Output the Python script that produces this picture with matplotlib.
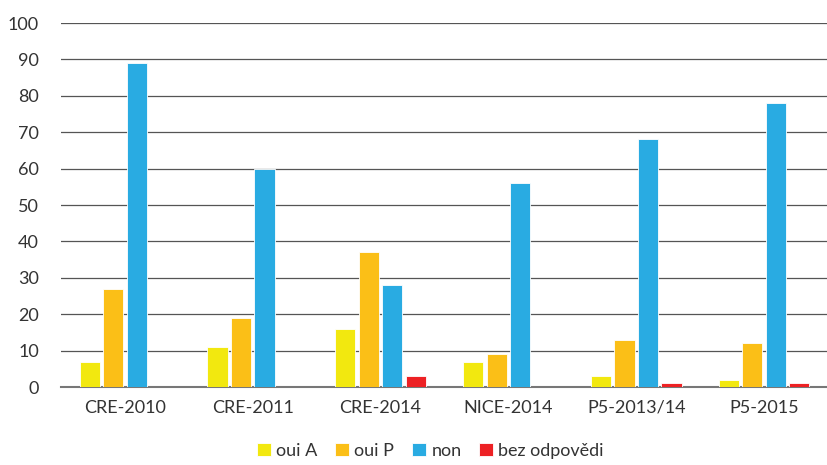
import matplotlib.pyplot as plt
import numpy as np

plt.rcParams['font.family'] = ['Lato', 'DejaVu Sans']

categories = ["CRE-2010", "CRE-2011", "CRE-2014", "NICE-2014", "P5-2013/14", "P5-2015"]
oui_a = [7, 11, 16, 7, 3, 2]
oui_p = [27, 19, 37, 9, 13, 12]
non = [89, 60, 28, 56, 68, 78]
bez = [0, 0, 3, 0, 1, 1]

series = [("oui A", oui_a, "#f2e80f"), ("oui P", oui_p, "#fbbf17"),
          ("non", non, "#29abe2"), ("bez odpovědi", bez, "#ed2124")]

fig = plt.figure(figsize=(8.28, 4.65), dpi=100)
ax = fig.add_axes([0.0737, 0.1677, 0.9263, 0.7828])

x = np.arange(len(categories))
pitch = 0.184
width = 0.158
for i, (name, vals, col) in enumerate(series):
    ax.bar(x + (i - 1.5) * pitch, vals, width, color=col, label=name,
           edgecolor="white", linewidth=0.6, zorder=3)

ax.set_xlim(-0.5, 5.5)
ax.set_ylim(0, 100)
ax.set_yticks(range(0, 101, 10))
ax.set_xticks(x)
ax.set_xticklabels(categories)
ax.tick_params(length=0, labelsize=13, colors="#333333")
ax.tick_params(axis='y', pad=16)
ax.tick_params(axis='x', pad=9)
ax.grid(axis='y', color="#555555", linewidth=0.9, zorder=0)
for s in ["top", "right", "left"]:
    ax.spines[s].set_visible(False)
ax.spines["bottom"].set_color("#777777")
ax.spines["bottom"].set_linewidth(1.5)

fig.legend(loc="center", bbox_to_anchor=(0.52, 0.03), ncol=4, frameon=False,
           fontsize=13, handlelength=0.75, handleheight=0.75, handletextpad=0.3,
           columnspacing=1.0, labelcolor="#333333")

fig.savefig("out.png", dpi=100)
